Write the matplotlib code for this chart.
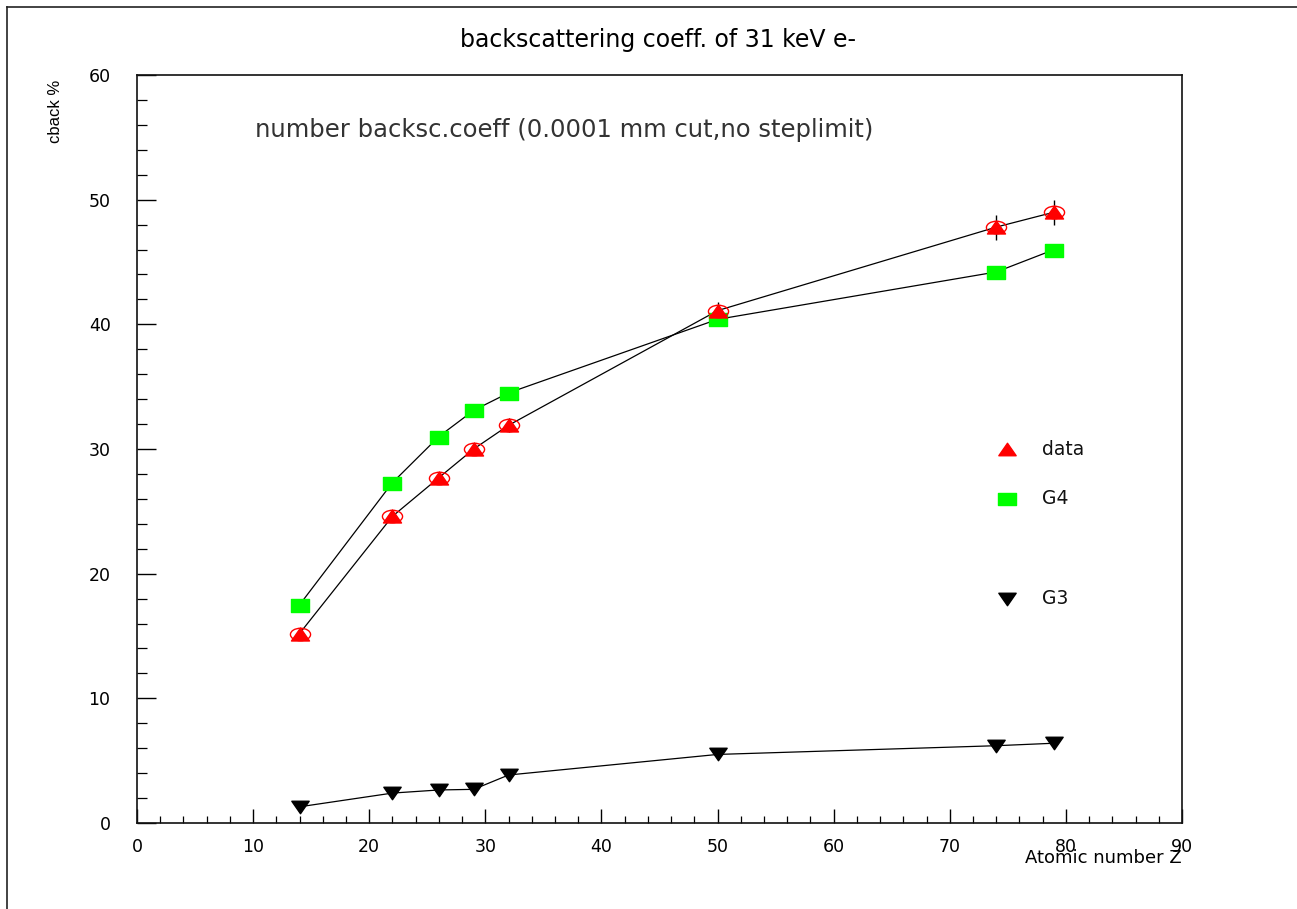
import matplotlib
matplotlib.use("Agg")
import matplotlib.pyplot as plt
from matplotlib.path import Path
from matplotlib.transforms import Affine2D
from matplotlib.lines import Line2D

# ── Backscattering coefficients vs atomic number ──
z_vals = [14, 22, 26, 29, 32, 50, 74, 79]
data_vals = [15.2, 24.6, 27.7, 30.0, 31.9, 41.1, 47.8, 49.0]
data_err = [0.3, 0.4, 0.45, 0.5, 0.55, 0.7, 1.0, 1.0]
g4_vals = [17.5, 27.3, 31.0, 33.1, 34.5, 40.4, 44.2, 46.0]
g3_vals = [1.3, 2.4, 2.65, 2.7, 3.85, 5.5, 6.2, 6.4]

# legend key placement (data coords)
key_x = 74.9
key_text_x = 77.9
key_y = [30.0, 26.0, 18.0]
key_labels = ['data', 'G4', 'G3']

# ── Wide (flattened) marker shapes ──
flat = 0.72
rect_marker = Path([(-1, -flat), (1, -flat), (1, flat), (-1, flat), (-1, -flat)],
                   [Path.MOVETO, Path.LINETO, Path.LINETO, Path.LINETO, Path.CLOSEPOLY])
up_marker = Path([(0, flat), (-1, -flat), (1, -flat), (0, flat)],
                 [Path.MOVETO, Path.LINETO, Path.LINETO, Path.CLOSEPOLY])
down_marker = Path([(0, -flat), (-1, flat), (1, flat), (0, -flat)],
                   [Path.MOVETO, Path.LINETO, Path.LINETO, Path.CLOSEPOLY])
ellipse_marker = Path.unit_circle().transformed(Affine2D().scale(1, 0.62))

RED = '#ff0000'
GREEN = '#00ff00'
TICK_FONT = 'DejaVu Sans'

fig = plt.figure(figsize=(12.97, 9.09), dpi=100)
ax = fig.add_axes([137 / 1297, 1 - 823 / 909, 1045 / 1297, 748 / 909])

# outer page frame (top and left edges only)
fig.add_artist(Line2D([7 / 1297, 7 / 1297], [0, 1 - 7 / 909], color='#222222', lw=1.2))
fig.add_artist(Line2D([7 / 1297, 1], [1 - 7 / 909, 1 - 7 / 909], color='#222222', lw=1.2))

# ── Series ──
ax.plot(z_vals, g4_vals, color='black', lw=0.9, zorder=2)
ax.plot(z_vals, g4_vals, ls='none', marker=rect_marker, ms=13,
        mfc=GREEN, mec=GREEN, zorder=3)

ax.errorbar(z_vals, data_vals, yerr=data_err, fmt='none', ecolor='black',
            elinewidth=1.0, capsize=0, zorder=2)
ax.plot(z_vals, data_vals, color='black', lw=0.9, zorder=2)
ax.plot(z_vals, data_vals, ls='none', marker=up_marker, ms=13,
        mfc=RED, mec=RED, zorder=4)
ax.plot(z_vals, data_vals, ls='none', marker=ellipse_marker, ms=14.5,
        mfc='none', mec=RED, mew=1.0, zorder=5)

ax.plot(z_vals, g3_vals, color='black', lw=0.9, zorder=2)
ax.plot(z_vals, g3_vals, ls='none', marker=down_marker, ms=12.5,
        mfc='black', mec='black', zorder=3)

# ── Legend keys ──
key_styles = [(up_marker, RED), (rect_marker, GREEN), (down_marker, 'black')]
for y, lab, (mk, col) in zip(key_y, key_labels, key_styles):
    ax.plot([key_x], [y], ls='none', marker=mk, ms=12.5, mfc=col, mec=col,
            clip_on=False)
    ax.text(key_text_x, y, lab, ha='left', va='center', fontsize=13.5,
            family=TICK_FONT, color='#111111')

# ── Axes styling ──
ax.set_xlim(0, 90)
ax.set_ylim(0, 60)
ax.set_xticks(range(0, 91, 10))
ax.set_xticks(range(0, 91, 2), minor=True)
ax.set_yticks(range(0, 61, 10))
ax.set_yticks(range(0, 61, 2), minor=True)
ax.tick_params(which='both', direction='in', top=False, right=False,
               colors='black', labelsize=12.5)
ax.tick_params(axis='x', which='major', length=10, width=1.0, pad=11)
ax.tick_params(axis='x', which='minor', length=5, width=0.9)
ax.tick_params(axis='y', which='major', length=14, width=1.0, pad=19)
ax.tick_params(axis='y', which='minor', length=7, width=0.9)
for lbl in ax.get_xticklabels() + ax.get_yticklabels():
    lbl.set_family(TICK_FONT)
for sp in ax.spines.values():
    sp.set_linewidth(1.2)
    sp.set_color('#111111')

ax.text(10.2, 55.6, 'number backsc.coeff (0.0001 mm cut,no steplimit)',
        ha='left', va='center', fontsize=17.5, family='DejaVu Sans',
        color='#333333')

fig.text(658 / 1297, 1 - 40 / 909, 'backscattering coeff. of 31 keV e-',
         ha='center', va='center', fontsize=17, family='DejaVu Sans')
fig.text(55 / 1297, 1 - 80 / 909, 'cback %', rotation=90,
         ha='center', va='top', fontsize=12, family='Liberation Sans')
fig.text(1182 / 1297, 1 - 858 / 909, 'Atomic number Z',
         ha='right', va='center', fontsize=13, family='DejaVu Sans')

fig.savefig('out.png', dpi=100, facecolor='white')
